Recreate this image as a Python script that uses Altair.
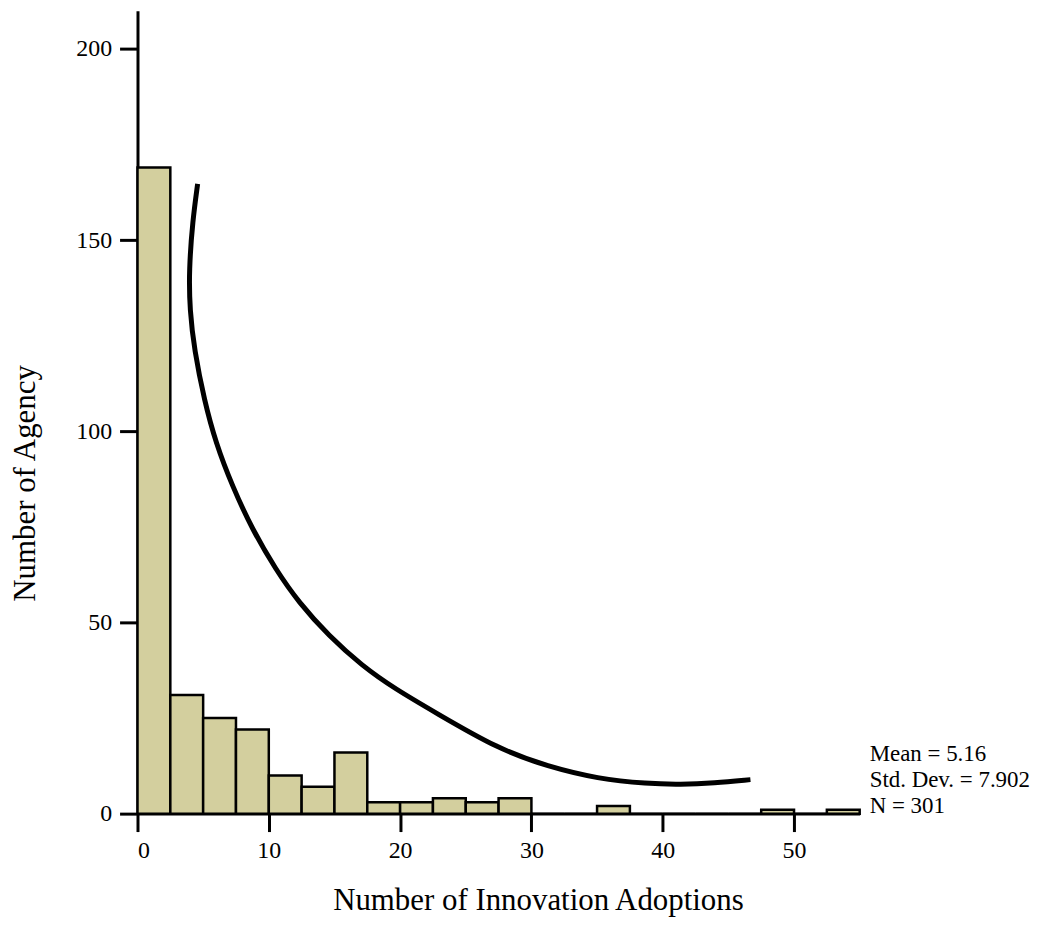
import altair as alt
import pandas as pd

# Histogram bins (Number of Innovation Adoptions) and counts (Number of Agency)
bin_start = [0, 2.5, 5, 7.5, 10, 12.5, 15, 17.5, 20, 22.5, 25, 27.5,
             30, 32.5, 35, 37.5, 40, 42.5, 45, 47.5, 50, 52.5]
bin_end = [2.5, 5, 7.5, 10, 12.5, 15, 17.5, 20, 22.5, 25, 27.5, 30,
           32.5, 35, 37.5, 40, 42.5, 45, 47.5, 50, 52.5, 55]
counts = [169, 31, 25, 22, 10, 7, 16, 3, 3, 4, 3, 4,
          0, 0, 2, 0, 0, 0, 0, 1, 0, 1]

# Fitted curve as drawn in the reference
curve_x = [4.58, 4.20, 3.92, 3.98, 4.33, 5.08, 5.97, 7.23, 8.75, 10.52, 12.29,
           14.57, 17.09, 19.63, 22.66, 27.47, 31.26, 35.05, 38.85, 41.35, 43.91, 46.68]
curve_y = [164.7, 155.1, 142.1, 131.7, 121.3, 108.2, 96.9, 85.6, 74.3, 63.9, 55.2,
           46.5, 38.7, 32.6, 26.5, 16.9, 12.3, 9.1, 7.8, 7.6, 8.0, 8.9]

stats_lines = ["Mean = 5.16", "Std. Dev. = 7.902", "N = 301"]

x_ticks = [0, 10, 20, 30, 40, 50]
y_ticks = [0, 50, 100, 150, 200]

FONT = "Liberation Serif"

bars_df = pd.DataFrame({"start": bin_start, "end": bin_end, "count": counts})
curve_df = pd.DataFrame({"x": curve_x, "y": curve_y, "i": list(range(len(curve_x)))})

xscale = alt.Scale(domain=[0, 55], nice=False, zero=False)
yscale = alt.Scale(domain=[0, 210], nice=False)

x_axis = alt.Axis(values=x_ticks, format="d", grid=False,
                  domainColor="black", domainWidth=3,
                  tickColor="black", tickWidth=3, tickSize=18,
                  labelFont=FONT, labelFontSize=24, labelColor="black", labelPadding=7,
                  title="Number of Innovation Adoptions", titleFont=FONT,
                  titleFontSize=31, titleFontWeight="normal", titleColor="black",
                  titleX=402, titleY=96, titleBaseline="alphabetic", titleAnchor="middle")

y_axis = alt.Axis(values=y_ticks, format="d", grid=False,
                  domainColor="black", domainWidth=3,
                  tickColor="black", tickWidth=3, tickSize=18,
                  labelFont=FONT, labelFontSize=24, labelColor="black", labelPadding=8,
                  title="Number of Agency", titleFont=FONT,
                  titleFontSize=31, titleFontWeight="normal", titleColor="black",
                  titleX=-103, titleY=474, titleBaseline="alphabetic", titleAngle=270)

bars = alt.Chart(bars_df).mark_bar(fill="#D3CF9E", stroke="black", strokeWidth=2.5).encode(
    x=alt.X("start:Q", scale=xscale, axis=x_axis),
    x2="end:Q",
    y=alt.Y("count:Q", scale=yscale, axis=y_axis),
    y2=alt.datum(0),
)

curve = alt.Chart(curve_df).mark_line(color="black", strokeWidth=5, interpolate="basis").encode(
    x=alt.X("x:Q", scale=xscale),
    y=alt.Y("y:Q", scale=yscale),
    order="i:Q",
)

text_y = [753, 779, 805]
texts = []
for line, yy in zip(stats_lines, text_y):
    texts.append(
        alt.Chart(pd.DataFrame({"t": [line]})).mark_text(
            align="left", baseline="alphabetic", font=FONT, fontSize=23, color="black"
        ).encode(text="t:N", x=alt.value(735), y=alt.value(yy))
    )

chart = alt.layer(bars, curve, *texts).properties(
    width=725, height=806,
    background="white",
    autosize=alt.AutoSizeParams(type="none"),
    padding={"left": 130, "top": 1, "right": 175, "bottom": 102},
).configure_view(stroke=None)

chart.save("out.html", embed_options={"renderer": "svg", "actions": False})
